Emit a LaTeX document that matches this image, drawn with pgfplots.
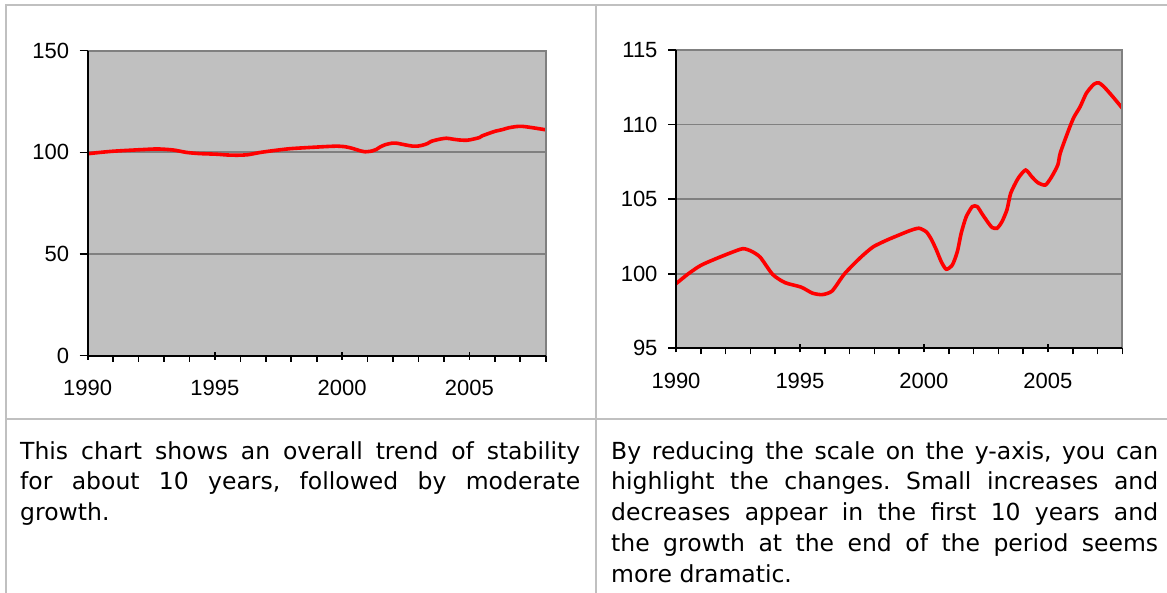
\documentclass[border=0pt]{standalone}
\usepackage{pgfplots}
\pgfplotsset{compat=1.18}
\usepackage{pgfplotstable}
\usepackage{fontspec}
\setmainfont{Liberation Sans}
\newfontfamily\verdana{DejaVu Sans}

\definecolor{plotbg}{HTML}{C0C0C0}
\definecolor{gridgray}{HTML}{808080}
\definecolor{cellline}{HTML}{C0C0C0}

% index
\pgfplotstableread{
year value
1990.00 99.33
1990.50 100.00
1991.00 100.56
1991.60 101.00
1992.20 101.40
1992.70 101.68
1993.05 101.50
1993.40 101.10
1993.90 99.95
1994.40 99.40
1995.05 99.10
1995.50 98.70
1995.90 98.60
1996.30 98.85
1996.80 100.00
1997.45 101.10
1997.95 101.80
1998.50 102.25
1999.00 102.60
1999.45 102.90
1999.80 103.05
2000.10 102.80
2000.30 102.30
2000.50 101.60
2000.70 100.80
2000.90 100.30
2001.15 100.60
2001.35 101.50
2001.50 102.70
2001.70 103.80
2001.95 104.50
2002.15 104.50
2002.35 104.00
2002.60 103.40
2002.75 103.10
2002.95 103.05
2003.15 103.50
2003.35 104.30
2003.50 105.40
2003.80 106.40
2004.10 106.95
2004.35 106.50
2004.60 106.10
2004.90 105.95
2005.15 106.50
2005.40 107.30
2005.50 108.10
2005.85 109.70
2006.05 110.50
2006.30 111.20
2006.55 112.10
2006.85 112.70
2007.05 112.80
2007.25 112.55
2007.60 111.90
2008.00 111.10
}\series

\pgfplotsset{
  panel/.style={
    scale only axis,
    anchor=south west,
    xmin=1990, xmax=2008,
    axis background/.style={fill=plotbg},
    axis line style={draw=none},
    xtick={1990,1995,2000,2005},
    minor xtick={1991,1992,1993,1994,1996,1997,1998,1999,2001,2002,2003,2004,2006,2007,2008},
    xtick pos=bottom, ytick pos=left,
    tick align=outside,
    major tick length=8pt, minor tick length=6pt,
    tick style={black, line width=1.6pt},
    major x tick style={yshift=4pt},
    ymajorgrids,
    major grid style={gridgray, line width=1.8pt},
    tick label style={font=\fontsize{22}{26}\selectfont},
    xticklabel style={yshift=-13pt},
    yticklabel style={xshift=-7pt},
    /pgf/number format/assume math mode=true,
    /pgf/number format/1000 sep={},
  },
  frame/.style={
    after end axis/.code={
      \draw[gridgray, line width=2pt] (rel axis cs:0,1) -- (rel axis cs:1,1) -- (rel axis cs:1,0);
      \draw[black, line width=2pt] (rel axis cs:0,1) -- (rel axis cs:0,0) -- (rel axis cs:1,0);
    }
  },
}

\begin{document}
\frenchspacing
\begin{tikzpicture}
\useasboundingbox (0pt,0pt) rectangle (1167pt,-593pt);

% table rules
\draw[cellline, line width=2pt] (5pt,-5pt) -- (1167pt,-5pt);
\draw[cellline, line width=2pt] (5.5pt,-5pt) -- (5.5pt,-593pt);
\draw[cellline, line width=2pt] (596pt,-5pt) -- (596pt,-593pt);
\draw[cellline, line width=2pt] (5pt,-418.5pt) -- (1167pt,-418.5pt);

% left: full scale
\begin{axis}[panel, frame,
  at={(87.7pt,-355.7pt)}, width=458pt, height=305pt,
  ymin=0, ymax=150, ytick={0,50,100,150}]
  \addplot[red, line width=3.6pt, smooth, tension=0.4] table[x=year, y=value] {\series};
\end{axis}

% right: reduced scale
\begin{axis}[panel, frame,
  at={(676pt,-348.3pt)}, width=446.3pt, height=298.3pt,
  ymin=95, ymax=115, ytick={95,100,105,110,115}]
  \addplot[red, line width=3.6pt, smooth, tension=0.4] table[x=year, y=value] {\series};
\end{axis}

\node[anchor=base west, text width=560pt, align=justify, inner sep=0pt,
  font=\verdana\fontsize{23.5}{30.75}\selectfont] at (20pt,-459pt)
  {This chart shows an overall trend of stability\linebreak
   for about 10 years, followed by moderate\linebreak
   growth.};

\node[anchor=base west, text width=547pt, align=justify, inner sep=0pt,
  font=\verdana\fontsize{23.5}{30.75}\selectfont] at (611pt,-459pt)
  {By reducing the scale on the y-axis, you can\linebreak
   highlight the changes. Small increases and\linebreak
   decreases appear in the first 10 years and\linebreak
   the growth at the end of the period seems\linebreak
   more dramatic.};
\end{tikzpicture}
\end{document}
